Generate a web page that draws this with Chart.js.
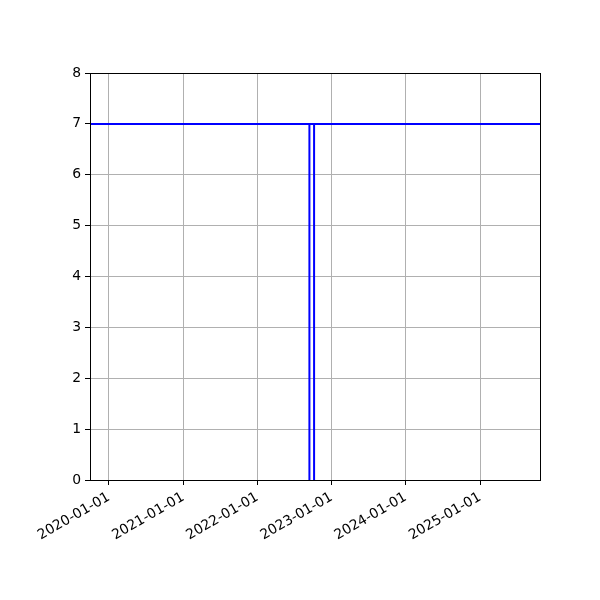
<!DOCTYPE html>
<html>
<head>
<meta charset="utf-8">
<script src="https://cdn.jsdelivr.net/npm/chart.js@4"></script>
<style>
  html, body { margin: 0; padding: 0; background: #fff; }
  #wrap { width: 600px; height: 600px; }
</style>
</head>
<body>
<div id="wrap"><canvas id="chart" width="600" height="600"></canvas></div>
<script>
// 값 배열
const yearTicks = ['2020-01-01', '2021-01-01', '2022-01-01', '2023-01-01', '2024-01-01', '2025-01-01'];
const xRange = ['2019-09-30', '2025-10-23'];
const lineDates = ['2019-09-30', '2025-10-23'];
const lineValues = [7, 7];
const gapDates = ['2022-09-14', '2022-09-14', '2022-10-07', '2022-10-07'];
const gapValues = [0, 7, 7, 0];
const yTicks = [0, 1, 2, 3, 4, 5, 6, 7, 8];

const toMs = d => Date.parse(d + 'T00:00:00Z');
const fmtDate = v => new Date(v).toISOString().slice(0, 10);

// 상단/우측 테두리
const framePlugin = {
  id: 'frame',
  afterDraw(chart) {
    const { ctx, chartArea: a } = chart;
    ctx.save();
    ctx.strokeStyle = '#000';
    ctx.lineWidth = 1;
    ctx.strokeRect(Math.round(a.left) + 0.5, Math.round(a.top) + 0.5, Math.round(a.right - a.left), Math.round(a.bottom - a.top));
    ctx.restore();
  }
};

const ctx = document.getElementById('chart').getContext('2d');
new Chart(ctx, {
  type: 'line',
  data: {
    datasets: [
      { data: lineDates.map((d, i) => ({ x: toMs(d), y: lineValues[i] })), borderColor: '#0000ff', borderWidth: 2, pointRadius: 0, tension: 0 },
      { data: gapDates.map((d, i) => ({ x: toMs(d), y: gapValues[i] })), borderColor: '#0000ff', borderWidth: 2, pointRadius: 0, tension: 0 }
    ]
  },
  options: {
    responsive: false,
    animation: false,
    events: [],
    layout: { padding: { top: 73, right: 60, left: 0, bottom: 0 } },
    plugins: { legend: { display: false }, tooltip: { enabled: false } },
    scales: {
      x: {
        type: 'linear',
        min: toMs(xRange[0]),
        max: toMs(xRange[1]),
        afterBuildTicks: axis => { axis.ticks = yearTicks.map(d => ({ value: toMs(d) })); },
        afterFit: axis => { axis.height = 120; },
        grid: { color: '#b0b0b0', lineWidth: 1, tickLength: 5, tickColor: '#000' },
        border: { color: '#000', width: 1 },
        ticks: {
          color: '#000', font: { family: 'DejaVu Sans', size: 13.9 },
          minRotation: 30, maxRotation: 30, autoSkip: false, padding: 4,
          callback: v => fmtDate(v)
        }
      },
      y: {
        min: 0, max: 8,
        afterBuildTicks: axis => { axis.ticks = yTicks.map(v => ({ value: v })); },
        afterFit: axis => { axis.width = 90; },
        grid: { color: '#b0b0b0', lineWidth: 1, tickLength: 5, tickColor: '#000' },
        border: { color: '#000', width: 1 },
        ticks: { color: '#000', font: { family: 'DejaVu Sans', size: 13.9 }, padding: 4 }
      }
    }
  },
  plugins: [framePlugin]
});
</script>
</body>
</html>
